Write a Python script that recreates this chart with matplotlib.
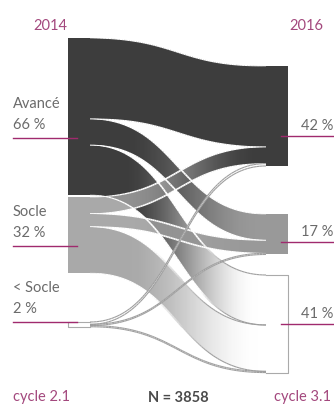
import numpy as np
import matplotlib.pyplot as plt
from matplotlib.path import Path
from matplotlib.patches import PathPatch, Rectangle
from matplotlib.collections import LineCollection
from matplotlib.colors import to_rgb

plt.rcParams['font.family'] = ['Lato', 'DejaVu Sans']

# data (percent of N)
years = ["2014", "2016"]
cycles = ["cycle 2.1", "cycle 3.1"]
left_labels = ["Avancé", "Socle", "< Socle"]
left_pct = [66, 32, 2]
right_pct = [42, 17, 41]
# flows[source][target]
flows = [[34, 11, 21],
         [7, 5.5, 19.5],
         [1, 0.5, 0.5]]
n_total = 3858

# layout in pixels
PX = 2.38
left_tops = [38, 197, 322]
right_tops = [66, 214, 275]
xl0, xl1 = 68, 90
xr0, xr1 = 266, 288
left_cols = ["#3d3d3d", "#a9a9a9", "#ffffff"]
right_cols = ["#3d3d3d", "#999999", "#ffffff"]
left_line_y = [138, 246, 322]
right_line_y = [136, 242, 324]
magenta = "#a3487d"
line_col = "#a02a6e"
txt_col = "#6b6b6b"
ALPHA = 0.88

fig = plt.figure(figsize=(3.34, 4.05), dpi=100)
ax = fig.add_axes([0, 0, 1, 1])


def draw_col(c):
    c = np.array(to_rgb(c))
    return np.clip((c - (1 - ALPHA)) / ALPHA, 0, 1)


def bez(p0, p1, p2, p3, n=80):
    u = np.linspace(0, 1, n)[:, None]
    return ((1 - u) ** 3) * p0 + 3 * ((1 - u) ** 2) * u * p1 + 3 * (1 - u) * u ** 2 * p2 + u ** 3 * p3


def mix(c0, c1, t):
    s = np.clip((t - 0.2) / 0.75, 0, 1)
    s = s * s * (3 - 2 * s)
    return c0[None, :] * (1 - s[:, None]) + c1[None, :] * s[:, None]


src_off = [0.0] * 3
tgt_off = [0.0] * 3
xm = (xl1 + xr0) / 2
edges = []
for i in range(3):
    for j in range(3):
        h = flows[i][j] * PX
        ys0 = left_tops[i] + src_off[i]
        yt0 = right_tops[j] + tgt_off[j]
        src_off[i] += h
        tgt_off[j] += h
        ys1, yt1 = ys0 + h, yt0 + h
        verts = [(xl1, ys0), (xm, ys0), (xm, yt0), (xr0, yt0), (xr0, yt1),
                 (xm, yt1), (xm, ys1), (xl1, ys1), (xl1, ys0)]
        codes = [Path.MOVETO, Path.CURVE4, Path.CURVE4, Path.CURVE4, Path.LINETO,
                 Path.CURVE4, Path.CURVE4, Path.CURVE4, Path.CLOSEPOLY]
        patch = PathPatch(Path(verts, codes), facecolor="none", edgecolor="none",
                          transform=ax.transData)
        ax.add_patch(patch)
        c0 = np.array(to_rgb(left_cols[i]))
        c1 = c0 if left_cols[i] == "#ffffff" else np.array(to_rgb(right_cols[j]))
        t = np.linspace(0, 1, 256)
        grad = mix(draw_col(c0), draw_col(c1), t)
        img = np.ones((2, 256, 4))
        img[:, :, :3] = grad[None, :, :]
        img[:, :, 3] = ALPHA
        im = ax.imshow(img, extent=(xl1, xr0, 405, 0), aspect="auto",
                       interpolation="bilinear", zorder=2)
        im.set_clip_path(patch)
        for a, b in [(ys0, yt0), (ys1, yt1)]:
            pts = bez(np.array([xl1, a]), np.array([xm, a]), np.array([xm, b]), np.array([xr0, b]))
            edges.append((pts, c0, c1))

for pts, c0, c1 in edges:
    segs = np.stack([pts[:-1], pts[1:]], axis=1)
    t = (segs[:, :, 0].mean(axis=1) - xl1) / (xr0 - xl1)
    fill = mix(c0, c1, t)
    lum = fill.mean(axis=1)
    w = np.clip((lum - 0.7) / 0.2, 0, 1)[:, None]
    cols = (1 - w) * np.ones(3) + w * np.array([0.62, 0.62, 0.62])
    lws = 0.35 + 0.9 * np.sin(np.pi * t) ** 0.7
    lws = np.where(w[:, 0] > 0.5, 0.8, lws)
    ax.add_collection(LineCollection(segs, colors=cols, linewidths=lws, zorder=3))

for i in range(3):
    h = left_pct[i] * PX
    y0 = left_tops[i]
    ax.add_patch(Rectangle((xl0, y0), xl1 - xl0, h, facecolor=left_cols[i],
                           edgecolor="none", zorder=4))
    if left_cols[i] == "#ffffff":
        ax.plot([xl1, xl0, xl0, xl1], [y0, y0, y0 + h, y0 + h], color="#aaaaaa", lw=0.8, zorder=4)
    h = right_pct[i] * PX
    y0 = right_tops[i]
    ax.add_patch(Rectangle((xr0, y0), xr1 - xr0, h, facecolor=right_cols[i],
                           edgecolor="none", zorder=1))
    if right_cols[i] == "#ffffff":
        ax.plot([xr0, xr1, xr1, xr0], [y0, y0, y0 + h, y0 + h], color="#aaaaaa", lw=0.8, zorder=4)

fs = 10.5
for i in range(3):
    yl = left_line_y[i]
    ax.plot([13, 77], [yl, yl], color=line_col, lw=1, zorder=5)
    ax.text(13, yl - 30, left_labels[i], fontsize=fs, color=txt_col, va="baseline", ha="left")
    ax.text(13, yl - 9, f"{left_pct[i]} %", fontsize=fs, color=txt_col, va="baseline", ha="left")
    yr = right_line_y[i]
    ax.plot([281, 334], [yr, yr], color=line_col, lw=1, zorder=5)
    ax.text(333, yr - 6.5, f"{right_pct[i]} %", fontsize=fs, color=txt_col, va="baseline", ha="right")

ax.text(50, 30, years[0], fontsize=fs, color=magenta, ha="center", va="baseline")
ax.text(306, 30, years[1], fontsize=fs, color=magenta, ha="center", va="baseline")
ax.text(13, 401, cycles[0], fontsize=fs, color=magenta, ha="left", va="baseline")
ax.text(331, 401, cycles[1], fontsize=fs, color=magenta, ha="right", va="baseline")
ax.text(178, 402, f"N = {n_total}", fontsize=fs, color="#4a4a4a", ha="center",
        va="baseline", fontweight="bold")

ax.set_xlim(0, 334)
ax.set_ylim(405, 0)
ax.axis("off")
fig.savefig("out.png", dpi=100)
